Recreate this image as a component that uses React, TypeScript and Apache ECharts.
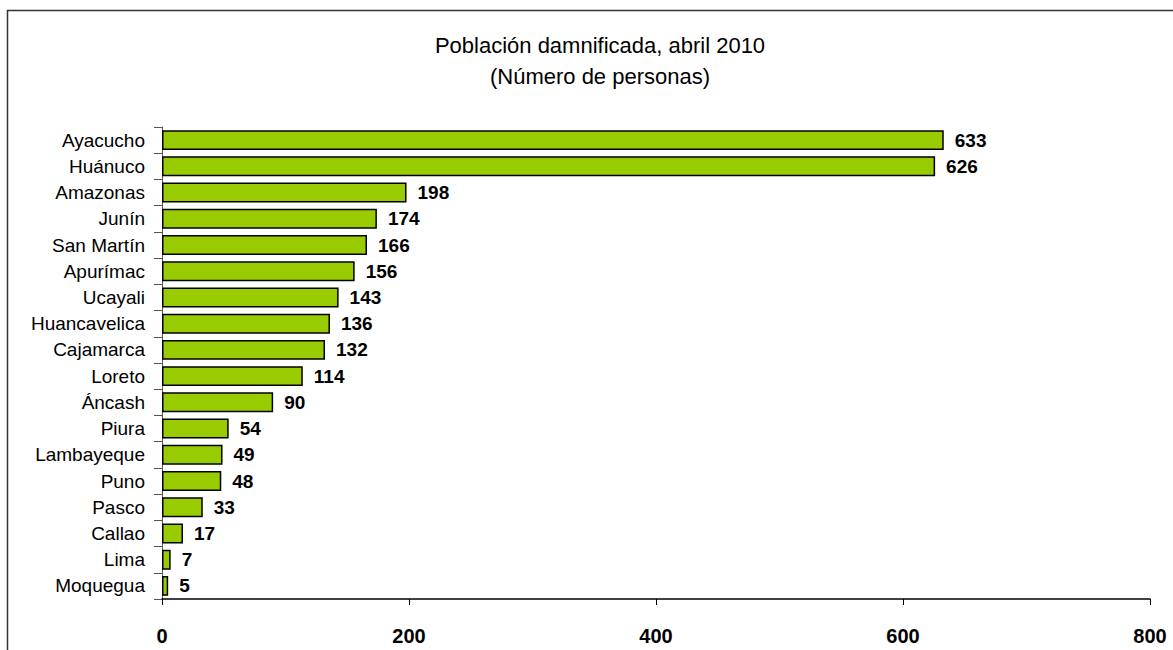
import React, { useEffect, useRef } from "react";
import * as echarts from "echarts";

const titleLines = ["Población damnificada, abril 2010", "(Número de personas)"];
const regions = [
  "Ayacucho", "Huánuco", "Amazonas", "Junín", "San Martín", "Apurímac", "Ucayali",
  "Huancavelica", "Cajamarca", "Loreto", "Áncash", "Piura", "Lambayeque", "Puno",
  "Pasco", "Callao", "Lima", "Moquegua",
];
const people = [633, 626, 198, 174, 166, 156, 143, 136, 132, 114, 90, 54, 49, 48, 33, 17, 7, 5];
const xTicks = { min: 0, max: 800, interval: 200 };

const FONT = "Arial, 'Liberation Sans', sans-serif";

export default function App() {
  const ref = useRef<HTMLDivElement>(null);
  useEffect(() => {
    const chart = echarts.init(ref.current!, null, { renderer: "svg" });
    chart.setOption({
      animation: false,
      backgroundColor: "#ffffff",
      title: {
        text: titleLines.join("\n"),
        left: 595,
        textAlign: "center",
        top: 25,
        textStyle: { fontFamily: FONT, fontSize: 22, fontWeight: "normal", color: "#000", lineHeight: 31 },
      },
      graphic: [
        {
          type: "rect",
          shape: { x: 7.5, y: 10.5, width: 1200, height: 700 },
          style: { fill: "none", stroke: "#333", lineWidth: 1.5 },
          silent: true,
        },
      ],
      grid: { left: 162, right: 23, top: 127, bottom: 51, containLabel: false },
      xAxis: {
        type: "value",
        min: xTicks.min,
        max: xTicks.max,
        interval: xTicks.interval,
        axisLine: { show: true, lineStyle: { color: "#000", width: 1.5 } },
        axisTick: { show: true, length: 6, lineStyle: { color: "#000" } },
        splitLine: { show: false },
        axisLabel: { fontFamily: FONT, fontSize: 20, color: "#000", fontWeight: "bold", margin: 27 },
      },
      yAxis: {
        type: "category",
        data: regions,
        inverse: true,
        axisLine: { show: true, lineStyle: { color: "#555", width: 1 } },
        axisTick: { show: true, length: 8, inside: false, lineStyle: { color: "#555" } },
        axisLabel: { fontFamily: FONT, fontSize: 19, color: "#000", margin: 17 },
      },
      series: [
        {
          type: "bar",
          data: people,
          barWidth: "76%",
          itemStyle: { color: "#99CC00", borderColor: "#000", borderWidth: 1.5 },
          label: {
            show: true,
            position: "right",
            distance: 11,
            fontFamily: FONT,
            fontSize: 19,
            fontWeight: "bold",
            color: "#000",
          },
        },
      ],
    });
    return () => chart.dispose();
  }, []);
  return (
    <div
      ref={ref}
      style={{ position: "fixed", left: 0, top: 0, width: 1173, height: 650 }}
    />
  );
}
